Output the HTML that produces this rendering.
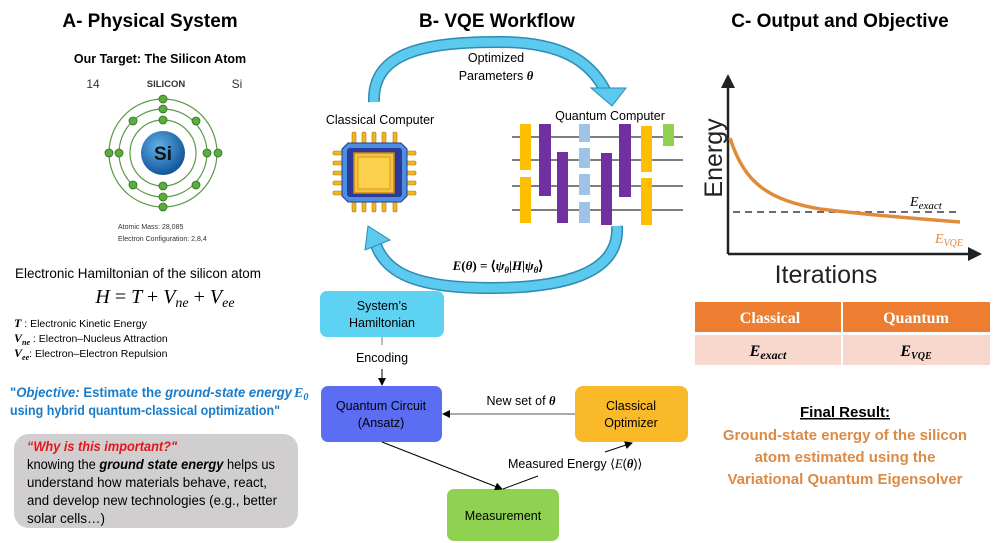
<!DOCTYPE html>
<html><head><meta charset="utf-8"><style>
body{margin:0;background:#fff;}
svg{display:block;font-family:"Liberation Sans",sans-serif;}
</style></head><body>
<svg width="997" height="543" viewBox="0 0 997 543" xmlns="http://www.w3.org/2000/svg">
<defs>
<radialGradient id="nuc" cx="0.4" cy="0.35" r="0.7"><stop offset="0" stop-color="#5fb0e8"/><stop offset="1" stop-color="#0d4f94"/></radialGradient>
<marker id="ah" markerWidth="8" markerHeight="8" refX="7" refY="4" orient="auto" markerUnits="userSpaceOnUse"><path d="M0,0 L8,4 L0,8 z" fill="#000"/></marker>
<marker id="ax" markerWidth="14" markerHeight="14" refX="10" refY="7" orient="auto" markerUnits="userSpaceOnUse"><path d="M0,0 L14,7 L0,14 z" fill="#222"/></marker>
</defs>
<!-- Titles -->
<g font-weight="bold" font-size="19" text-anchor="middle" fill="#000">
<text x="150" y="27">A- Physical System</text>
<text x="497" y="27">B- VQE Workflow</text>
<text x="840" y="27">C- Output and Objective</text>
</g>
<!-- Atom -->
<text x="160" y="63" font-size="12.5" font-weight="bold" text-anchor="middle">Our Target: The Silicon Atom</text>
<text x="93" y="88" font-size="12" text-anchor="middle" fill="#333">14</text>
<text x="166" y="87" font-size="9.5" font-weight="bold" text-anchor="middle" fill="#333">SILICON</text>
<text x="237" y="88" font-size="12" text-anchor="middle" fill="#333">Si</text>
<g fill="none" stroke="#5a9a45" stroke-width="1.2">
<circle cx="163" cy="153" r="33"/><circle cx="163" cy="153" r="44"/><circle cx="163" cy="153" r="54"/>
</g>
<circle cx="163" cy="153" r="22" fill="url(#nuc)"/>
<text x="163" y="160" font-size="19" font-weight="bold" text-anchor="middle" fill="#111">Si</text>
<g fill="#5cad3e" stroke="#2f6e22" stroke-width="0.8">
<circle cx="163" cy="120" r="4"/><circle cx="163" cy="186" r="4"/>
<circle cx="163" cy="109" r="4"/><circle cx="163" cy="197" r="4"/><circle cx="119" cy="153" r="4"/><circle cx="207" cy="153" r="4"/>
<circle cx="133" cy="121" r="4"/><circle cx="196" cy="121" r="4"/><circle cx="133" cy="185" r="4"/><circle cx="196" cy="185" r="4"/>
<circle cx="163" cy="99" r="4"/><circle cx="163" cy="207" r="4"/><circle cx="109" cy="153" r="4"/><circle cx="218" cy="153" r="4"/>
</g>
<text x="118" y="229" font-size="7" fill="#333">Atomic Mass: 28,085</text>
<text x="118" y="241" font-size="7" fill="#333">Electron Configuration: 2,8,4</text>
<!-- Hamiltonian -->
<text x="15" y="278" font-size="14" textLength="246" lengthAdjust="spacingAndGlyphs">Electronic Hamiltonian of the silicon atom</text>
<text x="165" y="303" font-size="20" font-family="Liberation Serif,serif" font-style="italic" text-anchor="middle">H <tspan font-style="normal">=</tspan> T <tspan font-style="normal">+</tspan> V<tspan font-size="14" dy="4">ne</tspan><tspan dy="-4" font-style="normal"> + </tspan>V<tspan font-size="14" dy="4">ee</tspan></text>
<g font-size="10.5">
<text x="14" y="327"><tspan font-family="Liberation Serif,serif" font-weight="bold" font-style="italic" font-size="12">T</tspan> : Electronic Kinetic Energy</text>
<text x="14" y="342"><tspan font-family="Liberation Serif,serif" font-weight="bold" font-style="italic" font-size="12">V<tspan font-size="8" dy="3">ne</tspan></tspan><tspan dy="-3"> : Electron–Nucleus Attraction</tspan></text>
<text x="14" y="357"><tspan font-family="Liberation Serif,serif" font-weight="bold" font-style="italic" font-size="12">V<tspan font-size="8" dy="3">ee</tspan></tspan><tspan dy="-3">: Electron–Electron Repulsion</tspan></text>
</g>
<g font-size="14" font-weight="bold" fill="#1a7cc9">
<text x="10" y="397" textLength="282" lengthAdjust="spacingAndGlyphs">"<tspan font-style="italic">Objective:</tspan> Estimate the <tspan font-style="italic">ground-state energy</tspan></text>
<text x="294" y="397" font-family="Liberation Serif,serif" font-style="italic">E<tspan font-size="10" dy="3">0</tspan></text>
<text x="10" y="415" textLength="270" lengthAdjust="spacingAndGlyphs">using hybrid quantum-classical optimization"</text>
</g>
<rect x="14" y="434" width="284" height="94" rx="15" fill="#d0cece"/>
<g font-size="13.5">
<text x="27" y="451" fill="#e8141b" font-weight="bold" font-style="italic" textLength="150" lengthAdjust="spacingAndGlyphs">“Why is this important?"</text>
<text x="27" y="469" textLength="248" lengthAdjust="spacingAndGlyphs">knowing the <tspan font-weight="bold" font-style="italic">ground state energy</tspan> helps us</text>
<text x="27" y="487" textLength="240" lengthAdjust="spacingAndGlyphs">understand how materials behave, react,</text>
<text x="27" y="505" textLength="250" lengthAdjust="spacingAndGlyphs">and develop new technologies (e.g., better</text>
<text x="27" y="523">solar cells…)</text>
</g>
<!-- B: arcs -->
<path d="M374,102 C372,50 430,42 500,42 C560,42 590,60 606,92" fill="none" stroke="#2e8bb5" stroke-width="12"/>
<path d="M374,102 C372,50 430,42 500,42 C560,42 590,60 606,92" fill="none" stroke="#5cc9ef" stroke-width="9"/>
<path d="M591,88 L626,88 L612,106 z" fill="#5cc9ef" stroke="#2e8bb5" stroke-width="1"/>
<path d="M617,226 C620,275 560,288 490,288 C420,288 385,275 375,242" fill="none" stroke="#2e8bb5" stroke-width="12"/>
<path d="M617,226 C620,275 560,288 490,288 C420,288 385,275 375,242" fill="none" stroke="#5cc9ef" stroke-width="9"/>
<path d="M365,250 L368,226 L390,240 z" fill="#5cc9ef" stroke="#2e8bb5" stroke-width="1"/>
<text x="496" y="62" font-size="12.5" text-anchor="middle">Optimized</text>
<text x="496" y="80" font-size="12.5" text-anchor="middle">Parameters <tspan font-family="Liberation Serif,serif" font-weight="bold" font-style="italic">θ</tspan></text>
<text x="380" y="124" font-size="12.5" text-anchor="middle">Classical Computer</text>
<text x="610" y="120" font-size="12.5" text-anchor="middle">Quantum Computer</text>
<!-- chip -->
<g fill="#f2b51e" stroke="#a87a10" stroke-width="0.6">
<rect x="352" y="132" width="4" height="12" rx="1.5"/><rect x="362" y="132" width="4" height="12" rx="1.5"/><rect x="372" y="132" width="4" height="12" rx="1.5"/><rect x="382" y="132" width="4" height="12" rx="1.5"/><rect x="393" y="132" width="4" height="12" rx="1.5"/>
<rect x="352" y="200" width="4" height="12" rx="1.5"/><rect x="362" y="200" width="4" height="12" rx="1.5"/><rect x="372" y="200" width="4" height="12" rx="1.5"/><rect x="382" y="200" width="4" height="12" rx="1.5"/><rect x="393" y="200" width="4" height="12" rx="1.5"/>
<rect x="333" y="151" width="11" height="4" rx="1.5"/><rect x="333" y="161" width="11" height="4" rx="1.5"/><rect x="333" y="171" width="11" height="4" rx="1.5"/><rect x="333" y="181" width="11" height="4" rx="1.5"/><rect x="333" y="191" width="11" height="4" rx="1.5"/>
<rect x="405" y="151" width="11" height="4" rx="1.5"/><rect x="405" y="161" width="11" height="4" rx="1.5"/><rect x="405" y="171" width="11" height="4" rx="1.5"/><rect x="405" y="181" width="11" height="4" rx="1.5"/><rect x="405" y="191" width="11" height="4" rx="1.5"/>
</g>
<path d="M348,143 L401,143 L407,149 L407,196 L401,202 L348,202 L342,196 L342,149 z" fill="#4a8fe0" stroke="#2a3a8a" stroke-width="1"/>
<rect x="347" y="148" width="55" height="49" rx="3" fill="#2e3a9a"/>
<rect x="354" y="153" width="40" height="40" fill="#f6c33a" stroke="#c98a10" stroke-width="1.5"/>
<rect x="358" y="157" width="32" height="32" fill="#fbd04c" stroke="#d89a1a" stroke-width="1"/>
<!-- circuit -->
<g stroke="#333" stroke-width="1.3">
<line x1="512" y1="137" x2="683" y2="137"/><line x1="512" y1="160" x2="683" y2="160"/><line x1="512" y1="186" x2="683" y2="186"/><line x1="512" y1="210" x2="683" y2="210"/>
</g>
<g>
<rect x="520" y="124" width="11" height="46" fill="#fdbf00"/><rect x="520" y="177" width="11" height="46" fill="#fdbf00"/>
<rect x="539" y="124" width="12" height="72" fill="#7030a0"/>
<rect x="557" y="152" width="11" height="71" fill="#7030a0"/>
<rect x="579" y="124" width="11" height="18" fill="#9dc3e6"/><rect x="579" y="148" width="11" height="20" fill="#9dc3e6"/><rect x="579" y="174" width="11" height="21" fill="#9dc3e6"/><rect x="579" y="202" width="11" height="21" fill="#9dc3e6"/>
<rect x="601" y="153" width="11" height="72" fill="#7030a0"/>
<rect x="619" y="124" width="12" height="73" fill="#7030a0"/>
<rect x="641" y="126" width="11" height="46" fill="#fdbf00"/><rect x="641" y="178" width="11" height="47" fill="#fdbf00"/>
<rect x="663" y="124" width="11" height="22" fill="#92d050"/>
</g>
<text x="498" y="270" font-size="13" font-family="Liberation Serif,serif" font-weight="bold" text-anchor="middle"><tspan font-style="italic">E</tspan>(<tspan font-style="italic">θ</tspan>)  = ⟨<tspan font-style="italic">ψ<tspan font-size="9" dy="3">θ</tspan></tspan><tspan dy="-3">|</tspan><tspan font-style="italic">H</tspan>|<tspan font-style="italic">ψ<tspan font-size="9" dy="3">θ</tspan></tspan><tspan dy="-3">⟩</tspan></text>
<!-- flowchart -->
<rect x="320" y="291" width="124" height="46" rx="7" fill="#5ed2f2"/>
<text x="382" y="310" font-size="12.5" text-anchor="middle">System’s</text>
<text x="382" y="327" font-size="12.5" text-anchor="middle">Hamiltonian</text>
<line x1="382" y1="337" x2="382" y2="345" stroke="#777"/>
<text x="382" y="362" font-size="12.5" text-anchor="middle">Encoding</text>
<line x1="382" y1="369" x2="382" y2="385" stroke="#000" marker-end="url(#ah)"/>
<rect x="321" y="386" width="121" height="56" rx="7" fill="#5b6ef3"/>
<text x="381" y="410" font-size="12.5" text-anchor="middle">Quantum Circuit</text>
<text x="381" y="427" font-size="12.5" text-anchor="middle">(Ansatz)</text>
<rect x="575" y="386" width="113" height="56" rx="8" fill="#f9b928"/>
<text x="631" y="410" font-size="12.5" text-anchor="middle">Classical</text>
<text x="631" y="427" font-size="12.5" text-anchor="middle">Optimizer</text>
<line x1="575" y1="414" x2="443" y2="414" stroke="#555" marker-end="url(#ah)"/>
<text x="521" y="405" font-size="12.5" text-anchor="middle">New set of <tspan font-family="Liberation Serif,serif" font-weight="bold" font-style="italic">θ</tspan></text>
<rect x="447" y="489" width="112" height="52" rx="7" fill="#8fd150"/>
<text x="503" y="520" font-size="12.5" text-anchor="middle">Measurement</text>
<line x1="382" y1="442" x2="502" y2="489" stroke="#000" marker-end="url(#ah)"/>
<line x1="503" y1="489" x2="538" y2="476" stroke="#000"/>
<text x="508" y="468" font-size="12.5">Measured Energy ⟨<tspan font-family="Liberation Serif,serif" font-style="italic">E</tspan>(<tspan font-family="Liberation Serif,serif" font-weight="bold" font-style="italic">θ</tspan>)⟩</text>
<line x1="605" y1="452" x2="632" y2="443" stroke="#000" marker-end="url(#ah)"/>
<!-- C chart -->
<line x1="728" y1="254" x2="728" y2="78" stroke="#222" stroke-width="2.5" marker-end="url(#ax)"/>
<line x1="728" y1="254" x2="978" y2="254" stroke="#222" stroke-width="2.5" marker-end="url(#ax)"/>
<text x="0" y="0" font-size="25" fill="#222" text-anchor="middle" transform="translate(722,158) rotate(-90)">Energy</text>
<text x="826" y="283" font-size="25" fill="#222" text-anchor="middle">Iterations</text>
<line x1="733" y1="212" x2="960" y2="212" stroke="#556" stroke-width="1.8" stroke-dasharray="7,5"/>
<path d="M730,138 C745,185 770,200 820,209 C870,215 920,219 960,222" fill="none" stroke="#e08a3c" stroke-width="3.5"/>
<text x="910" y="206" font-size="14" font-family="Liberation Serif,serif" font-style="italic">E<tspan font-size="11" dy="3">exact</tspan></text>
<text x="935" y="243" font-size="14" font-family="Liberation Serif,serif" font-style="italic" fill="#e08a3c">E<tspan font-size="10" dy="3">VQE</tspan></text>
<!-- table -->
<rect x="695" y="302" width="295" height="30" fill="#ed7d31"/>
<rect x="695" y="335" width="295" height="30" fill="#f8d7cc"/>
<line x1="842" y1="302" x2="842" y2="365" stroke="#fff" stroke-width="2"/>
<g font-family="Liberation Serif,serif" font-weight="bold" text-anchor="middle">
<text x="770" y="323" font-size="16" fill="#fff">Classical</text>
<text x="916" y="323" font-size="16" fill="#fff">Quantum</text>
<text x="768" y="356" font-size="16" font-style="italic">E<tspan font-size="12" dy="3">exact</tspan></text>
<text x="916" y="356" font-size="16" font-style="italic">E<tspan font-size="10" dy="3">VQE</tspan></text>
</g>
<text x="845" y="417" font-size="15" font-weight="bold" text-anchor="middle" text-decoration="underline">Final Result:</text>
<g font-size="15" font-weight="bold" fill="#dc8a44" text-anchor="middle">
<text x="845" y="440">Ground-state energy of the silicon</text>
<text x="845" y="462">atom estimated using the</text>
<text x="845" y="484">Variational Quantum Eigensolver</text>
</g>
</svg>
</body></html>
